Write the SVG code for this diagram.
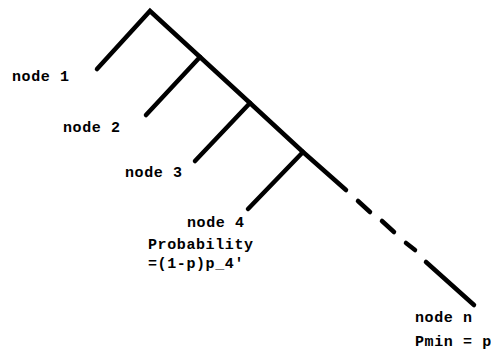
<svg xmlns="http://www.w3.org/2000/svg" width="491" height="355" viewBox="0 0 491 355">
<style>
.t{font-family:"Liberation Mono","DejaVu Sans Mono",monospace;font-weight:bold;font-size:15px;letter-spacing:0.6px;fill:#000}
.l{stroke:#000;stroke-width:4.5;stroke-linecap:round;fill:none}
</style>
<rect width="491" height="355" fill="#fff"/>
<g id="connectors">
<polyline class="l" points="97,69 150,11 200,57 250,103 303,152 346,190"/>
<line class="l" x1="200" y1="57" x2="146" y2="115"/>
<line class="l" x1="250" y1="103" x2="195" y2="161"/>
<line class="l" x1="303" y1="152" x2="248" y2="209"/>
<line class="l" x1="358" y1="201" x2="370" y2="212"/>
<line class="l" x1="382" y1="221" x2="394" y2="232"/>
<line class="l" x1="406" y1="243" x2="415" y2="250"/>
<line class="l" x1="426" y1="262" x2="474" y2="305"/>
</g>
<g id="node1"><text class="t" x="12" y="81">node 1</text></g>
<g id="node2"><text class="t" x="63" y="132">node 2</text></g>
<g id="node3"><text class="t" x="125" y="177">node 3</text></g>
<g id="node4"><text class="t" x="187" y="227">node 4</text><text class="t" x="148" y="249">Probability</text><text class="t" x="148" y="268">=(1-p)p_4'</text></g>
<g id="noden"><text class="t" x="415" y="322">node n</text><text class="t" x="415" y="346">Pmin = p</text></g>
</svg>
